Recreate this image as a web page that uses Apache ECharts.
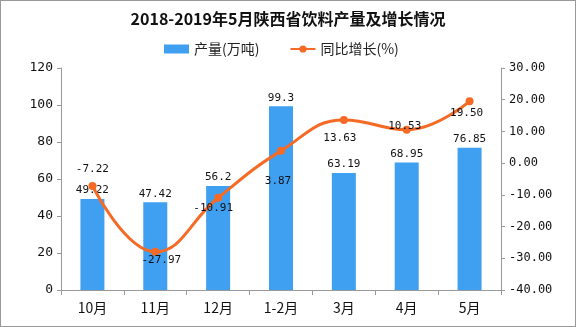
<!DOCTYPE html>
<html><head><meta charset="utf-8">
<script src="https://cdn.jsdelivr.net/npm/echarts@6/dist/echarts.min.js"></script>
<style>html,body{margin:0;padding:0;background:#fff}#c{width:576px;height:327px;box-sizing:border-box;border:1px solid #999}</style>
</head><body><div id="c"></div>
<script>
const categories = ['10月','11月','12月','1-2月','3月','4月','5月'];
const output = [49.22, 47.42, 56.2, 99.3, 63.19, 68.95, 76.85];
const growth = [-7.22, -27.97, -10.91, 3.87, 13.63, 10.53, 19.50];
const outputLabels = ['49.22','47.42','56.2','99.3','63.19','68.95','76.85'];
const labelPos = ['top','bottom','bottom','bottom','bottom','top','bottom'];
const labelOff = [[0,-2],[6,-6],[-5,-4],[-3,16],[-4,4],[-2,11],[-3,-3]];
const font = '"Noto Sans CJK SC", "DejaVu Sans", sans-serif';
const mono = '"DejaVu Sans Mono", "Liberation Mono", monospace';
const chart = echarts.init(document.getElementById('c'));
chart.setOption({
  animation:false,
  title:{text:'2018-2019年5月陕西省饮料产量及增长情况',left:'center',top:5,textStyle:{fontSize:16,fontWeight:'bold',color:'#111',fontFamily:font}},
  legend:{top:36,left:158,itemGap:30,itemWidth:25,itemHeight:9,textStyle:{fontSize:14,color:'#222',fontFamily:font},
    data:[{name:'产量(万吨)',icon:'rect'},{name:'同比增长(%)'}]},
  grid:{left:60,right:74,top:67,bottom:36},
  xAxis:{type:'category',data:categories,axisLine:{lineStyle:{color:'#999'}},axisTick:{show:true,length:5,lineStyle:{color:'#999'}},
    axisLabel:{color:'#111',fontSize:14,margin:11,fontFamily:font}},
  yAxis:[
    {type:'value',min:0,max:120,interval:20,splitLine:{show:false},axisLine:{show:true,lineStyle:{color:'#999'}},axisTick:{show:true,length:4,lineStyle:{color:'#999'}},
      axisLabel:{color:'#111',fontSize:13,fontFamily:mono}},
    {type:'value',min:-40,max:30,interval:10,splitLine:{show:false},axisLine:{show:true,lineStyle:{color:'#999'}},axisTick:{show:true,length:4,lineStyle:{color:'#999'}},
      axisLabel:{color:'#111',fontSize:12,fontFamily:mono,formatter:v=>v.toFixed(2)}}
  ],
  series:[
    {name:'产量(万吨)',type:'bar',barWidth:24,itemStyle:{color:'#3f9ff0'},
      data:output.map((v,i)=>({value:v,label:{formatter:outputLabels[i]}})),
      label:{show:true,position:'top',color:'#111',fontSize:11,fontFamily:mono,distance:3}},
    {name:'同比增长(%)',type:'line',yAxisIndex:1,smooth:0.45,symbol:'circle',symbolSize:8,
      lineStyle:{color:'#f56a24',width:3},itemStyle:{color:'#f56a24'},
      data:growth.map((v,i)=>({value:v,label:{position:labelPos[i],offset:labelOff[i]}})),
      label:{show:true,color:'#111',fontSize:11,fontFamily:mono,formatter:p=>p.value.toFixed(2)}}
  ]
});
</script></body></html>
